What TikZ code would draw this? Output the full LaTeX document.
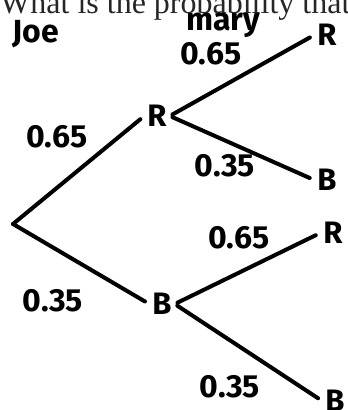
\documentclass[tikz,border=0pt]{standalone}
\usepackage{fontspec}
\setmainfont{Liberation Serif}
\newfontfamily\hand{Fira Sans}
\usetikzlibrary{positioning}

\begin{document}
\begin{tikzpicture}[
  x=1pt,y=-1pt,
  branch/.style={line width=4pt,line cap=round,shorten <=3pt,shorten >=5pt},
  pick/.style={font=\hand\bfseries\fontsize{31}{31}\selectfont,inner sep=3pt},
  prob/.style={font=\hand\bfseries\fontsize{32}{32}\selectfont,inner sep=0pt},
  who/.style={font=\hand\bfseries\fontsize{32}{32}\selectfont,inner sep=0pt}
]
  \useasboundingbox (0,0) rectangle (348,410);
  \node[anchor=base west,inner sep=0pt,text=black!85,font=\fontsize{32}{32}\selectfont] (question) at (0,13) {What is the probability that};

  % who picks
  \node[who] (joe) at (36,34) {Joe};
  \node[who] (mary) at (223,25) {mary};

  % tree
  \coordinate (root) at (13,224);
  \node[pick] (jR) at (157,116) {R};
  \node[pick] (jB) at (162,304) {B};
  \node[pick] (rR) at (327,35) {R};
  \node[pick] (rB) at (327,180) {B};
  \node[pick] (bR) at (333,233) {R};
  \node[pick] (bB) at (335,401) {B};

  \draw[branch,shorten <=0pt] (root) -- (jR.west);
  \draw[branch,shorten <=0pt] (root) -- (jB.west);
  \draw[branch] (jR.east) -- (rR.west);
  \draw[branch] (jR.east) -- (rB.west);
  \draw[branch] (jB.east) -- (bR.west);
  \draw[branch] (jB.east) -- (bB.west);

  % probabilities
  \node[prob] (pjR) at (57,137) {0.65};
  \node[prob] (pjB) at (53,301) {0.35};
  \node[prob] (prR) at (211,54) {0.65};
  \node[prob] (prB) at (225,166) {0.35};
  \node[prob] (pbR) at (239,238) {0.65};
  \node[prob] (pbB) at (230,387) {0.35};
\end{tikzpicture}
\end{document}
